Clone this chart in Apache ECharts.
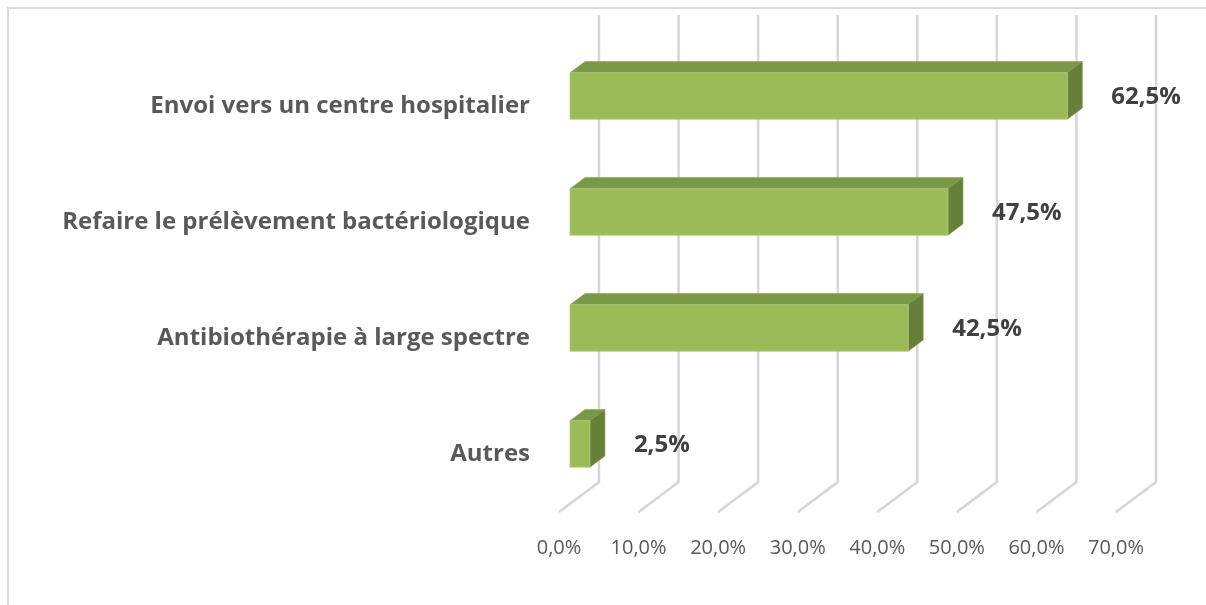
<!DOCTYPE html>
<html>
<head>
<meta charset="utf-8">
<script src="https://cdn.jsdelivr.net/npm/echarts@6/dist/echarts.min.js"></script>
<style>
html, body { margin: 0; padding: 0; background: #fff; }
#main { width: 1206px; height: 605px; }
</style>
</head>
<body>
<div id="main"></div>
<script>
// data
const categories = [
  'Envoi vers un centre hospitalier',
  'Refaire le prélèvement bactériologique',
  'Antibiothérapie à large spectre',
  'Autres'
];
const values = [62.5, 47.5, 42.5, 2.5];
const tickValues = [0, 10, 20, 30, 40, 50, 60, 70];

const frontColor = '#9bbb59';
const topColor = '#7a9946';
const sideColor = '#667f39';
const gridColor = '#d6d6d6';

// depth of the 3d box (floor front -> back wall)
const DEPTH_X = 40;
const DEPTH_Y = 30;

function fmt(v) {
  return v.toFixed(1).replace('.', ',') + '%';
}

const chartDom = document.getElementById('main');
const myChart = echarts.init(chartDom);

function renderWall(params, api) {
  const cs = params.coordSys;
  const p = api.coord([api.value(0), 0]);
  const x = p[0];
  const bottom = cs.y + cs.height;
  return {
    type: 'polyline',
    shape: {
      points: [
        [x + DEPTH_X, cs.y - 33],
        [x + DEPTH_X, bottom - DEPTH_Y],
        [x, bottom]
      ]
    },
    style: { fill: null, stroke: gridColor, lineWidth: 2.5 },
    silent: true
  };
}

function renderBar(params, api) {
  const idx = api.value(1);
  const val = api.value(0);
  const start = api.coord([0, idx]);
  const end = api.coord([val, idx]);
  const band = api.size([0, 1])[1];
  const h = band * 0.4;
  const dx = 15, dy = 11.25;
  const cy = start[1] - 10;
  const x0 = start[0] + 11;
  const x1 = end[0] + 11;
  const yt = cy - h / 2;
  const yb = cy + h / 2;
  return {
    type: 'group',
    children: [
      {
        type: 'polygon',
        shape: { points: [[x0, yt], [x0 + dx, yt - dy], [x1 + dx, yt - dy], [x1, yt]] },
        style: { fill: topColor, stroke: '#8aa653', lineWidth: 0.6 }
      },
      {
        type: 'polygon',
        shape: { points: [[x1, yt], [x1 + dx, yt - dy], [x1 + dx, yb - dy], [x1, yb]] },
        style: { fill: sideColor, stroke: '#7d9648', lineWidth: 0.6 }
      },
      {
        type: 'rect',
        shape: { x: x0, y: yt, width: x1 - x0, height: h },
        style: { fill: frontColor, stroke: '#b3cc80', lineWidth: 0.8 }
      },
      {
        type: 'text',
        x: x1 + 44,
        y: cy + 1,
        style: {
          text: fmt(val),
          fill: '#404040',
          font: 'bold 24px "Open Sans", sans-serif',
          align: 'left',
          verticalAlign: 'middle'
        }
      }
    ]
  };
}

const option = {
  animation: false,
  backgroundColor: '#fff',
  graphic: [
    {
      type: 'rect',
      shape: { x: 8, y: 8, width: 1400, height: 800 },
      style: { fill: null, stroke: '#d9d9d9', lineWidth: 2 },
      silent: true
    }
  ],
  grid: {
    left: 559,
    right: 90,
    top: 48,
    bottom: 93
  },
  xAxis: {
    type: 'value',
    min: 0,
    max: 70,
    interval: 10,
    axisLine: { show: false },
    axisTick: { show: false },
    splitLine: { show: false },
    axisLabel: {
      margin: 26,
      color: '#595959',
      fontSize: 20,
      fontFamily: 'Open Sans',
      formatter: fmt
    }
  },
  yAxis: {
    type: 'category',
    inverse: true,
    data: categories,
    axisLine: { show: false },
    axisTick: { show: false },
    splitLine: { show: false },
    axisLabel: {
      margin: 29,
      color: '#595959',
      fontSize: 24,
      fontWeight: 'bold',
      fontFamily: 'Open Sans'
    }
  },
  series: [
    {
      name: 'walls',
      type: 'custom',
      renderItem: renderWall,
      data: tickValues.map(v => [v]),
      z: 1,
      silent: true
    },
    {
      name: 'bars',
      type: 'custom',
      renderItem: renderBar,
      data: values.map((v, i) => [v, i]),
      z: 2
    }
  ]
};

myChart.setOption(option);
</script>
</body>
</html>
